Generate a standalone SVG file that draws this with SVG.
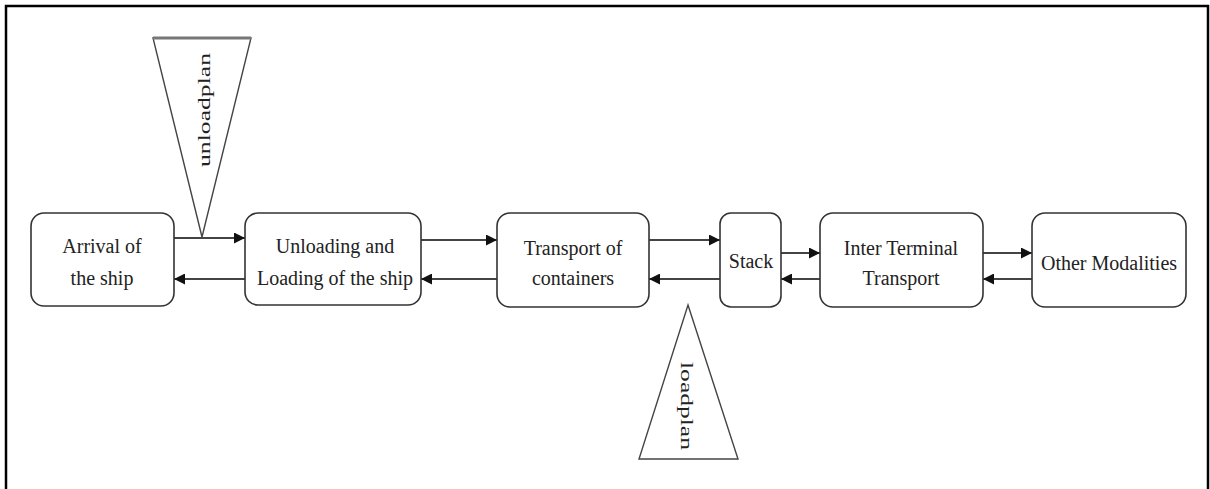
<svg xmlns="http://www.w3.org/2000/svg" width="1210" height="489" viewBox="0 0 1210 489">
<defs>
<marker id="ah" viewBox="0 0 10 10" refX="10" refY="5" markerWidth="11" markerHeight="11" markerUnits="userSpaceOnUse" orient="auto">
<path d="M0,0 L10,5 L0,10 z" fill="#111"/>
</marker>
<style>
.box{fill:#fff;stroke:#333;stroke-width:1.6}
.tri{fill:#fff;stroke:#444;stroke-width:1.4}
.t{font-family:"Liberation Serif","Times New Roman",serif;font-size:20px;fill:#222;text-anchor:middle}
.r{font-family:"Liberation Serif","Times New Roman",serif;font-size:17px;fill:#222;text-anchor:middle}
.c{stroke:#444;stroke-width:2;fill:none;marker-end:url(#ah)}
</style>
</defs>
<rect width="1210" height="489" fill="#fff"/>
<rect x="6" y="6" width="1202" height="500" fill="none" stroke="#000" stroke-width="2.5"/>

<g id="unloadplan">
<polygon class="tri" points="153,38 251,38 202,237"/>
<line x1="153" y1="38" x2="251" y2="38" stroke="#777" stroke-width="3"/>
<text class="r" transform="translate(210,110) rotate(-90)" textLength="114" lengthAdjust="spacingAndGlyphs">unloadplan</text>
</g>
<g id="loadplan">
<polygon class="tri" points="688,305 738,459 639,459"/>
<text class="r" transform="translate(681,406) rotate(90)" textLength="88" lengthAdjust="spacingAndGlyphs">loadplan</text>
</g>

<g id="connectors">
<line class="c" x1="174" y1="238" x2="245" y2="238"/>
<line class="c" x1="245" y1="279" x2="174" y2="279"/>
<line class="c" x1="421" y1="240" x2="497" y2="240"/>
<line class="c" x1="497" y1="279" x2="421" y2="279"/>
<line class="c" x1="649" y1="240" x2="720" y2="240"/>
<line class="c" x1="720" y1="279" x2="649" y2="279"/>
<line class="c" x1="781" y1="253" x2="820" y2="253"/>
<line class="c" x1="820" y1="279" x2="781" y2="279"/>
<line class="c" x1="983" y1="253" x2="1032" y2="253"/>
<line class="c" x1="1032" y1="279" x2="983" y2="279"/>
</g>

<g id="arrival">
<rect class="box" x="31" y="213" width="143" height="93" rx="13"/>
<text class="t" x="102" y="253">Arrival of</text>
<text class="t" x="102" y="285">the ship</text>
</g>
<g id="unloading">
<rect class="box" x="245" y="213" width="176" height="92" rx="13"/>
<text class="t" x="335" y="253">Unloading and</text>
<text class="t" x="335" y="285">Loading of the ship</text>
</g>
<g id="transport">
<rect class="box" x="497" y="213" width="152" height="94" rx="13"/>
<text class="t" x="573" y="255">Transport of</text>
<text class="t" x="573" y="285">containers</text>
</g>
<g id="stack">
<rect class="box" x="720" y="213" width="61" height="94" rx="11"/>
<text class="t" x="751" y="268">Stack</text>
</g>
<g id="inter">
<rect class="box" x="820" y="213" width="163" height="94" rx="13"/>
<text class="t" x="901" y="255">Inter Terminal</text>
<text class="t" x="901" y="285">Transport</text>
</g>
<g id="other">
<rect class="box" x="1032" y="213" width="154" height="94" rx="13"/>
<text class="t" x="1109" y="270">Other Modalities</text>
</g>
</svg>
